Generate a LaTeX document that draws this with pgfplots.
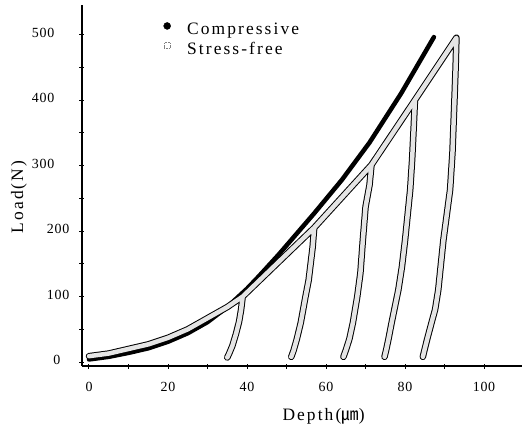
\documentclass[border=0pt]{standalone}
\usepackage{fontspec}
\setmainfont{Liberation Serif}
\newfontfamily\lsfont{Liberation Serif}[LetterSpace=12]
\newfontfamily\tickfont{Liberation Serif}[LetterSpace=5]
\newfontfamily\cjk{Noto Sans CJK KR}
\usepackage{pgfplots}
\pgfplotsset{compat=1.18}

\begin{document}
\begin{tikzpicture}
\begin{axis}[
    scale only axis,
    width=440bp, height=361bp,
    xmin=-1.77, xmax=109.6,
    ymin=-6, ymax=545,
    axis x line=bottom, axis y line=left,
    axis line style={-, line width=1.2bp},
    every tick/.style={black, line width=1bp},
    major tick length=5bp, minor tick length=5bp,
    xtick={0,20,...,100}, minor xtick={10,30,...,90},
    ytick={0,100,...,500}, minor ytick={50,150,...,450},
    % the scanned labels are not aligned: 300-500 sit further left
    yticklabels={0\hspace*{9bp}, 100, 200, 300\hspace*{15bp}, 400\hspace*{15bp}, 500\hspace*{15bp}},
    /pgf/number format/assume math mode=true,
    tick label style={font=\tickfont\fontsize{14}{15}\selectfont},
    yticklabel style={anchor=east, inner sep=0pt, xshift=-10bp, yshift=2bp},
    xticklabel style={anchor=north, inner sep=0pt, yshift=-14bp},
    xlabel={\lsfont\fontsize{17.5}{19}\selectfont Depth({\cjk ㎛})},
    ylabel={\lsfont\fontsize{17.5}{19}\selectfont Load(N)},
    xlabel style={at={(rel axis cs:0.549,0)}, anchor=center, yshift=-50bp},
    ylabel style={at={(rel axis cs:0,0.468)}, anchor=center, yshift=63bp},
    clip=false,
    legend style={draw=none, fill=none, at={(rel axis cs:0.184,0.955)}, anchor=north west,
        font=\lsfont\fontsize{17.5}{19}\selectfont, row sep=2bp, inner sep=0pt},
    legend cell align=left,
    legend image code/.code={\path[draw=none, fill=none] (0bp,-4bp) rectangle (22bp,4bp);
        \draw[#1] plot coordinates {(4bp,4bp)};},
]
% compressive
\addplot[black, line width=4.5bp, line cap=round, line join=round, forget plot] coordinates {
    (0,4) (5,8) (10,14) (15,21) (20,31) (25,44) (30,61) (35,84) (40,112) (43,131)
    (48,164) (52,192) (57,227) (64,278) (71,335) (79,410) (87.3,496)
};
% stress-free, loading and unloading cycles
\addplot[black, line width=1bp, double=black!10, double distance=4.5bp,
    line cap=round, line join=round, forget plot] coordinates {
    (0,9) (5,13) (10,20) (15,27) (20,37) (25,50) (30,67) (35,84) (38.9,100)
    (38.5,80) (38.0,62) (37.2,43) (36.3,25) (35.4,12) (35.0,7)
    (35.4,12) (36.3,25) (37.2,43) (38.0,62) (38.5,80) (38.9,100)
    (57,205)
    (56.6,175) (56.1,150) (55.6,125) (54.8,100) (53.6,60) (52.6,35) (51.8,18) (51.2,8)
    (51.8,18) (52.6,35) (53.6,60) (54.8,100) (55.6,125) (56.1,150) (56.6,175) (57,205)
    (71.5,301)
    (71.0,270) (70.0,237) (69.3,185) (68.7,136) (67.9,100) (66.8,60) (65.9,35) (65.0,18) (64.4,8)
    (65.0,18) (65.9,35) (66.8,60) (67.9,100) (68.7,136) (69.3,185) (70.0,237) (71.0,270) (71.5,301)
    (82.5,400)
    (82.2,360) (81.8,310) (81.3,263) (80.0,186) (79.2,145) (78.3,110) (76.6,60) (75.8,35) (75.2,18) (74.8,8)
    (75.2,18) (75.8,35) (76.6,60) (78.3,110) (79.2,145) (80.0,186) (81.3,263) (81.8,310) (82.2,360) (82.5,400)
    (93,495)
    (92.8,450) (92.5,400) (92.0,320) (91.4,263) (89.7,186) (88.4,110) (87.6,80) (86.7,60) (85.6,35) (84.9,18) (84.5,8)
};
\addlegendimage{only marks, mark=*, black, mark size=3.5bp}
\addlegendentry{Compressive}
\addlegendimage{only marks, mark=square, gray, mark size=2.7bp, densely dotted}
\addlegendentry{Stress-free}
\end{axis}
\pgfresetboundingbox
\useasboundingbox (-82bp,-62bp) rectangle (448bp,366bp);
\end{tikzpicture}
\end{document}
